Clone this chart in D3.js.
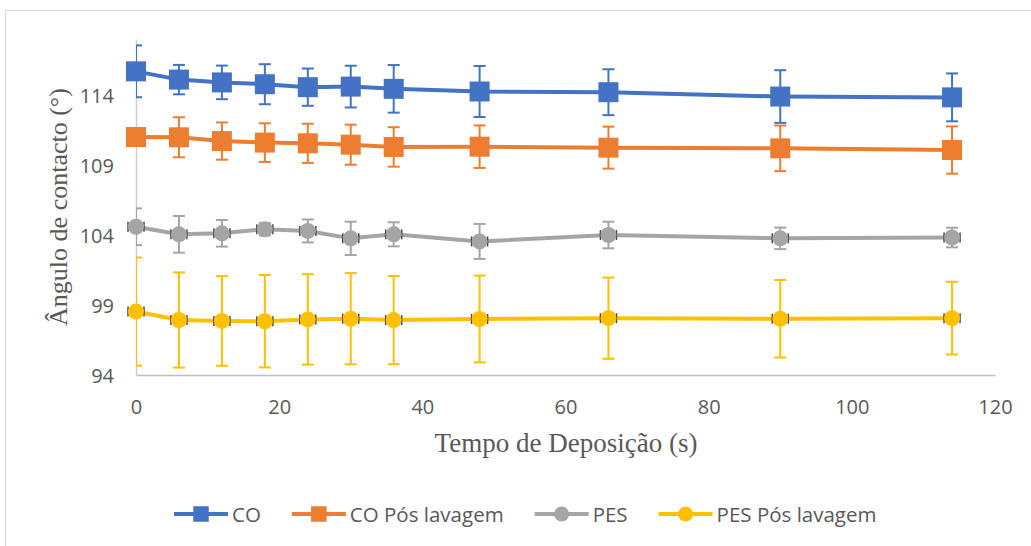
<!DOCTYPE html>
<html>
<head>
<meta charset="utf-8">
<script src="https://cdn.jsdelivr.net/npm/d3@7"></script>
<style>
  html, body { margin: 0; padding: 0; background: #fff; }
  svg { display: block; }
</style>
</head>
<body>
<svg id="chart" width="1031" height="546"></svg>
<script>
// ---- data ----
const times = [0, 6, 12, 18, 24, 30, 36, 48, 66, 90, 114];
const coVals    = [115.69, 115.10, 114.90, 114.77, 114.56, 114.60, 114.44, 114.25, 114.20, 113.89, 113.83];
const coErr     = [1.85, 1.05, 1.20, 1.43, 1.33, 1.49, 1.70, 1.82, 1.64, 1.88, 1.71];
const coPosVals = [111.00, 110.98, 110.71, 110.60, 110.55, 110.45, 110.29, 110.31, 110.24, 110.19, 110.07];
const coPosErr  = [0.60, 1.43, 1.33, 1.38, 1.40, 1.43, 1.41, 1.52, 1.50, 1.63, 1.69];
const pesVals   = [104.59, 104.05, 104.12, 104.41, 104.29, 103.76, 104.05, 103.54, 104.00, 103.76, 103.82];
const pesErr    = [1.31, 1.31, 0.95, 0.45, 0.82, 1.19, 0.86, 1.25, 0.95, 0.77, 0.70];
const pesPosVals = [98.53, 97.93, 97.86, 97.84, 97.97, 98.02, 97.92, 98.00, 98.06, 98.02, 98.06];
const pesPosErr  = [3.86, 3.40, 3.20, 3.30, 3.23, 3.26, 3.15, 3.10, 2.90, 2.77, 2.60];
const seriesNames = ["CO", "CO Pós lavagem", "PES", "PES Pós lavagem"];
const seriesColors = ["#4472C4", "#ED7D31", "#A5A5A5", "#FFC000"];
const seriesShapes = ["square", "square", "circle", "circle"];
const xTicks = [0, 20, 40, 60, 80, 100, 120];
const yTicks = [94, 99, 104, 109, 114];
const xTitle = "Tempo de Deposição (s)";
const yTitle = "Ângulo de contacto (°)";

const series = [
  { name: seriesNames[0], vals: coVals, err: coErr, color: seriesColors[0], shape: seriesShapes[0] },
  { name: seriesNames[1], vals: coPosVals, err: coPosErr, color: seriesColors[1], shape: seriesShapes[1] },
  { name: seriesNames[2], vals: pesVals, err: pesErr, color: seriesColors[2], shape: seriesShapes[2] },
  { name: seriesNames[3], vals: pesPosVals, err: pesPosErr, color: seriesColors[3], shape: seriesShapes[3] }
];

// ---- layout ----
const svg = d3.select("#chart");
const plot = { left: 136, right: 995, top: 39, bottom: 375 };
const x = d3.scaleLinear().domain([0, 120]).range([plot.left, plot.right]);
const y = d3.scaleLinear().domain([94, 118]).range([plot.bottom, plot.top]);

// chart border
svg.append("rect").attr("x", 5.5).attr("y", 10.5).attr("width", 1100).attr("height", 700)
  .attr("fill", "#fff").attr("stroke", "#D9D9D9").attr("stroke-width", 1);

svg.append("clipPath").attr("id", "plotclip").append("rect")
  .attr("x", plot.left).attr("y", 0).attr("width", plot.right - plot.left + 20).attr("height", plot.bottom + 20);

// axes
const xAxis = d3.axisBottom(x).tickValues(xTicks).tickSize(0).tickPadding(0);
const gx = svg.append("g").attr("transform", `translate(0,${plot.bottom})`).call(xAxis);
gx.select(".domain").attr("stroke", "#BFBFBF").attr("stroke-width", 1.5);
gx.selectAll("text").attr("y", 39).attr("dy", null)
  .attr("font-family", "'Open Sans', sans-serif").attr("font-size", 20).attr("fill", "#595959");

const yAxis = d3.axisLeft(y).tickValues(yTicks).tickSize(0).tickPadding(0);
const gy = svg.append("g").attr("transform", `translate(${plot.left},0)`).call(yAxis);
gy.select(".domain").attr("stroke", "#D0D0D0").attr("stroke-width", 1.5);
gy.selectAll("text").attr("x", -22).attr("dy", "0.36em")
  .attr("font-family", "'Open Sans', sans-serif").attr("font-size", 20).attr("fill", "#595959");

// axis titles
svg.append("text").attr("x", 566).attr("y", 452)
  .attr("text-anchor", "middle").attr("font-family", "'Liberation Serif', 'Times New Roman', serif")
  .attr("font-size", 27).attr("fill", "#595959").text(xTitle);
svg.append("text").attr("transform", "translate(67,207) rotate(-90)")
  .attr("text-anchor", "middle").attr("font-family", "'Liberation Serif', 'Times New Roman', serif")
  .attr("font-size", 26).attr("fill", "#595959").text(yTitle);

// series
const line = d3.line().x(d => x(d.t)).y(d => y(d.v));
const sq = 20, cr = 8, cap = 6;

series.forEach(s => {
  const pts = times.map((t, i) => ({ t, v: s.vals[i], e: s.err[i] }));
  const g = svg.append("g");
  g.append("path").datum(pts).attr("d", line).attr("fill", "none")
    .attr("stroke", s.color).attr("stroke-width", 4).attr("stroke-linejoin", "round");

  const eb = g.append("g").attr("clip-path", "url(#plotclip)")
    .attr("stroke", s.color).attr("stroke-width", 2).attr("fill", "none");
  pts.forEach(p => {
    eb.append("line").attr("x1", x(p.t)).attr("x2", x(p.t)).attr("y1", y(p.v - p.e)).attr("y2", y(p.v + p.e));
    eb.append("line").attr("x1", x(p.t) - cap).attr("x2", x(p.t) + cap).attr("y1", y(p.v + p.e)).attr("y2", y(p.v + p.e));
    eb.append("line").attr("x1", x(p.t) - cap).attr("x2", x(p.t) + cap).attr("y1", y(p.v - p.e)).attr("y2", y(p.v - p.e));
  });

  if (s.shape === "circle") {
    // tiny dark horizontal error caps peeking at the marker edges
    const xe = g.append("g").attr("stroke", "#4a4a4a").attr("stroke-width", 1.5);
    pts.forEach(p => {
      [-1, 1].forEach(sgn => {
        xe.append("line").attr("x1", x(p.t) + sgn * 8).attr("x2", x(p.t) + sgn * 8)
          .attr("y1", y(p.v) - 5).attr("y2", y(p.v) + 5);
      });
    });
    g.selectAll("circle.m").data(pts).join("circle").attr("class", "m")
      .attr("cx", d => x(d.t)).attr("cy", d => y(d.v)).attr("r", cr).attr("fill", s.color);
  } else {
    g.selectAll("rect.m").data(pts).join("rect").attr("class", "m")
      .attr("x", d => x(d.t) - sq / 2).attr("y", d => y(d.v) - sq / 2)
      .attr("width", sq).attr("height", sq).attr("fill", s.color);
  }
});

// legend
const legY = 514;
const lg = svg.append("g");
const items = series.map(s => {
  const it = lg.append("g");
  it.append("line").attr("x1", 0).attr("x2", 54).attr("y1", legY).attr("y2", legY)
    .attr("stroke", s.color).attr("stroke-width", 4);
  if (s.shape === "circle") {
    it.append("circle").attr("cx", 27).attr("cy", legY).attr("r", 7.5).attr("fill", s.color);
  } else {
    it.append("rect").attr("x", 27 - 7.75).attr("y", legY - 7.75).attr("width", 15.5).attr("height", 15.5).attr("fill", s.color);
  }
  const tx = it.append("text").attr("x", 58).attr("y", legY + 7.5)
    .attr("font-family", "'Open Sans', sans-serif").attr("font-size", 20.5).attr("fill", "#595959").text(s.name);
  return { g: it, w: 58 + tx.node().getComputedTextLength() };
});
const gap = 31;
const total = d3.sum(items, d => d.w) + gap * (items.length - 1);
let cx = 174;
items.forEach(it => { it.g.attr("transform", `translate(${cx},0)`); cx += it.w + gap; });
</script>
</body>
</html>
